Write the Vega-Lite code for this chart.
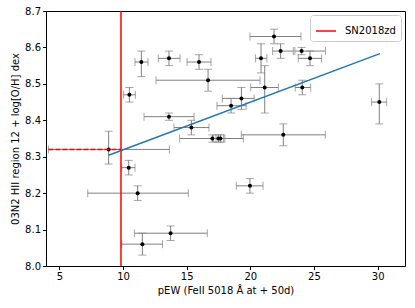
{
  "$schema": "https://vega.github.io/schema/vega-lite/v6.json",
  "autosize": {"type": "none"},
  "width": 359,
  "height": 255,
  "padding": {"left": 46, "top": 11, "right": 10, "bottom": 42},
  "background": "white",
  "config": {
    "view": {"stroke": "#000", "strokeWidth": 1},
    "axis": {
      "grid": false,
      "domainColor": "#000",
      "tickColor": "#000",
      "labelColor": "#000",
      "titleColor": "#000",
      "labelFont": "DejaVu Sans",
      "titleFont": "DejaVu Sans",
      "labelFontSize": 10,
      "titleFontSize": 10,
      "titleFontWeight": "normal",
      "tickSize": 3.5,
      "labelPadding": 2,
      "labelFlush": false
    },
    "legend": {"labelFont": "DejaVu Sans", "labelFontSize": 10}
  },
  "datasets": {
    "pts": [
      {"x": 8.87, "y": 8.32, "xlo": 4.14, "xhi": 13.64, "ylo": 8.28, "yhi": 8.37},
      {"x": 10.45, "y": 8.27, "xlo": 9.9, "xhi": 10.94, "ylo": 8.25, "yhi": 8.29},
      {"x": 10.5, "y": 8.47, "xlo": 10.03, "xhi": 10.97, "ylo": 8.45, "yhi": 8.49},
      {"x": 11.44, "y": 8.56, "xlo": 10.94, "xhi": 11.96, "ylo": 8.52, "yhi": 8.59},
      {"x": 11.15, "y": 8.2, "xlo": 7.23, "xhi": 15.13, "ylo": 8.18, "yhi": 8.22},
      {"x": 11.52, "y": 8.06, "xlo": 9.9, "xhi": 13.1, "ylo": 8.03, "yhi": 8.09},
      {"x": 13.74, "y": 8.09, "xlo": 10.89, "xhi": 16.62, "ylo": 8.07, "yhi": 8.11},
      {"x": 13.61, "y": 8.57, "xlo": 12.77, "xhi": 14.48, "ylo": 8.55, "yhi": 8.59},
      {"x": 13.61, "y": 8.41, "xlo": 11.65, "xhi": 15.58, "ylo": 8.4, "yhi": 8.42},
      {"x": 15.37, "y": 8.38, "xlo": 14.0, "xhi": 16.75, "ylo": 8.36, "yhi": 8.4},
      {"x": 15.97, "y": 8.56, "xlo": 15.03, "xhi": 16.91, "ylo": 8.54, "yhi": 8.58},
      {"x": 16.68, "y": 8.51, "xlo": 12.59, "xhi": 20.76, "ylo": 8.48, "yhi": 8.54},
      {"x": 17.02, "y": 8.35, "xlo": 14.45, "xhi": 19.45, "ylo": 8.34, "yhi": 8.36},
      {"x": 17.49, "y": 8.35, "xlo": 17.1, "xhi": 17.9, "ylo": 8.34, "yhi": 8.36},
      {"x": 17.65, "y": 8.35, "xlo": 17.3, "xhi": 18.0, "ylo": 8.34, "yhi": 8.36},
      {"x": 18.49, "y": 8.44, "xlo": 17.38, "xhi": 19.67, "ylo": 8.42, "yhi": 8.46},
      {"x": 19.3, "y": 8.46, "xlo": 17.8, "xhi": 20.3, "ylo": 8.43, "yhi": 8.49},
      {"x": 19.97, "y": 8.22, "xlo": 18.9, "xhi": 21.0, "ylo": 8.2, "yhi": 8.24},
      {"x": 20.84, "y": 8.57, "xlo": 20.4, "xhi": 21.3, "ylo": 8.53, "yhi": 8.61},
      {"x": 21.13, "y": 8.49, "xlo": 20.03, "xhi": 22.2, "ylo": 8.42, "yhi": 8.55},
      {"x": 21.86, "y": 8.63, "xlo": 19.97, "xhi": 23.98, "ylo": 8.61, "yhi": 8.65},
      {"x": 22.38, "y": 8.59, "xlo": 21.75, "xhi": 23.38, "ylo": 8.57, "yhi": 8.61},
      {"x": 22.59, "y": 8.36, "xlo": 19.29, "xhi": 25.89, "ylo": 8.33, "yhi": 8.39},
      {"x": 24.03, "y": 8.59, "xlo": 23.5, "xhi": 25.9, "ylo": 8.58, "yhi": 8.6},
      {"x": 24.08, "y": 8.49, "xlo": 23.53, "xhi": 24.74, "ylo": 8.47, "yhi": 8.51},
      {"x": 24.69, "y": 8.57, "xlo": 23.77, "xhi": 25.6, "ylo": 8.55, "yhi": 8.59},
      {"x": 30.13, "y": 8.45, "xlo": 29.53, "xhi": 30.71, "ylo": 8.39, "yhi": 8.5}
    ],
    "fit": [
      {"x": 8.87, "y": 8.304},
      {"x": 30.18, "y": 8.583}
    ],
    "sn": [
      {"x": 9.84, "label": "SN2018zd"}
    ],
    "snh": [
      {"x": 4.14, "x2": 9.84, "y": 8.32}
    ]
  },
  "layer": [
    {
      "data": {"name": "pts"},
      "mark": {"type": "rule", "color": "#808080", "strokeWidth": 1},
      "encoding": {
        "x": {"field": "xlo", "type": "quantitative", "scale": {"domain": [3.95, 32.15], "nice": false, "zero": false}, "axis": {"tickCount": 6, "labelOverlap": false, "title": "pEW (FeII 5018 Å at  + 50d)"}},
        "x2": {"field": "xhi"},
        "y": {"field": "y", "type": "quantitative", "scale": {"domain": [8.0, 8.7], "nice": false, "zero": false}, "axis": {"tickCount": 8, "format": ".1f", "labelOverlap": false, "title": "03N2 HII region 12 + log[O/H] dex"}}
      }
    },
    {
      "data": {"name": "pts"},
      "mark": {"type": "rule", "color": "#808080", "strokeWidth": 1},
      "encoding": {
        "x": {"field": "x", "type": "quantitative"},
        "y": {"field": "ylo", "type": "quantitative"},
        "y2": {"field": "yhi"}
      }
    },
    {
      "data": {"name": "pts"},
      "mark": {"type": "tick", "orient": "vertical", "color": "#808080", "size": 8, "thickness": 1},
      "encoding": {
        "x": {"field": "xlo", "type": "quantitative"},
        "y": {"field": "y", "type": "quantitative"}
      }
    },
    {
      "data": {"name": "pts"},
      "mark": {"type": "tick", "orient": "vertical", "color": "#808080", "size": 8, "thickness": 1},
      "encoding": {
        "x": {"field": "xhi", "type": "quantitative"},
        "y": {"field": "y", "type": "quantitative"}
      }
    },
    {
      "data": {"name": "pts"},
      "mark": {"type": "tick", "orient": "horizontal", "color": "#808080", "size": 8, "thickness": 1},
      "encoding": {
        "x": {"field": "x", "type": "quantitative"},
        "y": {"field": "ylo", "type": "quantitative"}
      }
    },
    {
      "data": {"name": "pts"},
      "mark": {"type": "tick", "orient": "horizontal", "color": "#808080", "size": 8, "thickness": 1},
      "encoding": {
        "x": {"field": "x", "type": "quantitative"},
        "y": {"field": "yhi", "type": "quantitative"}
      }
    },
    {
      "data": {"name": "pts"},
      "mark": {"type": "point", "filled": true, "color": "#000", "size": 16, "opacity": 1},
      "encoding": {
        "x": {"field": "x", "type": "quantitative"},
        "y": {"field": "y", "type": "quantitative"}
      }
    },
    {
      "data": {"name": "snh"},
      "mark": {"type": "rule", "color": "#ff0000", "strokeWidth": 1.5, "strokeDash": [5, 2]},
      "encoding": {
        "x": {"field": "x", "type": "quantitative"},
        "x2": {"field": "x2"},
        "y": {"field": "y", "type": "quantitative"}
      }
    },
    {
      "data": {"name": "sn"},
      "mark": {"type": "rule", "strokeWidth": 1.5},
      "encoding": {
        "x": {"field": "x", "type": "quantitative"},
        "color": {
          "field": "label", "type": "nominal",
          "scale": {"domain": ["SN2018zd"], "range": ["#ff0000"]},
          "legend": {
            "title": null,
            "orient": "top-right",
            "offset": 4,
            "symbolType": "stroke",
            "symbolSize": 400,
            "symbolStrokeWidth": 1.5,
            "strokeColor": "#cccccc",
            "fillColor": "white",
            "cornerRadius": 3,
            "padding": 5,
            "labelOffset": 8,
            "labelColor": "#000"
          }
        }
      }
    },
    {
      "data": {"name": "fit"},
      "mark": {"type": "line", "color": "#1f77b4", "strokeWidth": 1.5},
      "encoding": {
        "x": {"field": "x", "type": "quantitative"},
        "y": {"field": "y", "type": "quantitative"}
      }
    }
  ]
}
